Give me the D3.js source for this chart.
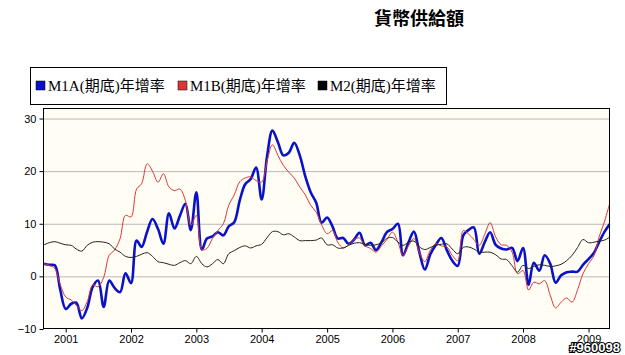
<!DOCTYPE html>
<html><head><meta charset="utf-8">
<script src="https://cdn.jsdelivr.net/npm/d3@7"></script>
<style>
body{margin:0;background:#fff;}
svg{display:block;}
</style></head>
<body>
<svg id="chart" width="625" height="355"></svg>
<script>
// Months: Sep 2000 .. May 2009
const startYear = 2000, startMonth = 8; // 0-based (Sep)
const months = d3.range(105).map(i => {
  const y = startYear + Math.floor((startMonth + i) / 12);
  const m = (startMonth + i) % 12 + 1;
  return y + "/" + String(m).padStart(2, "0");
});

const seriesNames = ["M1A(期底)年增率", "M1B(期底)年增率", "M2(期底)年增率"];
const seriesColors = ["#0a12c8", "#d83838", "#222222"];

const m1a = [2.4,2.2,2.1,-2.5,
  -6.2,-5.2,-5.0,-8.0,-6.0,-2.0,-0.8,-5.8,-0.8,-2.2,-3.0,0.6,
  -1.3,6.8,5.6,8.5,10.9,9.0,6.2,12.0,9.1,11.5,13.8,8.8,
  16.0,5.1,7.2,7.6,8.4,7.8,9.5,10.3,14.5,17.5,18.5,20.7,
  14.6,23.0,27.7,25.5,23.0,23.5,25.4,23.0,19.0,16.0,14.0,10.2,
  11.2,9.4,7.2,7.3,6.2,7.0,8.3,5.9,6.4,5.0,6.5,8.4,
  9.0,10.0,4.0,6.5,8.5,4.5,1.3,4.2,6.0,7.3,5.0,3.0,
  2.0,7.8,8.8,9.3,4.3,6.5,8.4,6.0,5.3,5.1,5.4,2.9,
  5.4,-1.6,2.6,1.1,4.0,2.4,-1.2,0.2,0.8,0.9,0.9,2.2,
  3.3,4.5,6.5,8.5,10.0];

const m1b = [2.4,2.1,1.5,-1.5,
  -3.9,-4.5,-5.5,-6.5,-4.8,-1.6,-2.0,-0.2,4.0,5.0,7.2,11.6,
  11.3,16.6,17.6,21.4,20.0,17.9,19.5,17.0,16.3,16.6,14.4,9.7,
  11.6,5.1,5.3,7.2,8.7,10.0,13.5,15.5,18.0,18.7,18.9,18.2,
  17.9,22.0,25.0,23.0,21.1,19.8,18.7,17.0,15.5,13.5,12.2,9.8,
  8.1,8.7,6.5,5.4,6.0,7.0,7.3,5.8,5.3,4.6,5.8,7.0,
  8.4,6.5,4.0,5.8,7.2,4.5,2.8,5.0,6.2,5.8,5.6,4.0,
  3.0,8.7,8.1,7.0,5.9,8.0,10.2,7.5,6.0,5.9,4.6,0.5,
  1.1,-2.6,-1.1,-1.4,-0.8,-3.6,-6.0,-4.9,-4.1,-4.9,-2.5,0.5,
  2.4,4.0,7.5,10.5,14.1];

const m2 = [6.0,6.4,6.6,6.3,
  6.0,5.9,5.2,4.8,5.9,6.5,6.6,6.5,6.2,5.2,4.6,3.8,
  3.6,3.8,4.2,4.5,3.8,2.8,2.6,2.3,2.1,2.6,3.0,2.4,
  3.8,2.4,1.8,2.4,3.2,2.4,4.3,4.9,5.5,5.8,5.4,5.8,
  6.1,7.4,8.5,8.5,7.9,8.1,7.5,6.8,6.8,6.8,6.9,7.3,
  6.0,6.0,5.4,5.4,5.9,6.3,6.4,6.1,5.9,6.0,6.4,7.2,
  7.4,6.5,5.9,6.5,6.7,5.6,5.1,5.5,5.9,6.1,6.2,5.2,
  4.3,5.5,5.6,5.2,4.6,4.6,4.6,4.1,3.3,3.2,2.0,0.8,
  2.1,1.5,1.9,2.2,2.1,1.9,2.0,2.3,3.0,4.0,5.5,7.0,
  6.4,6.5,6.7,6.9,7.5];

const yTicks = [-10, 0, 10, 20, 30];
const xTickYears = ["2001","2002","2003","2004","2005","2006","2007","2008","2009"];
const titleText = "貨幣供給額";
const stampText = "#960098";

const parse = d3.timeParse("%Y/%m");
const dates = months.map(parse);
const allSeries = [m1a, m1b, m2];

const svg = d3.select("#chart");
const plot = {left: 43, right: 610, top: 108, bottom: 329};

const x = d3.scaleTime()
  .domain([new Date(2000, 7, 27), new Date(2009, 4, 1)])
  .range([plot.left, plot.right]);
const y = d3.scaleLinear().domain([-10, 32]).range([plot.bottom, plot.top]);

// title
svg.append("text").attr("x", 419).attr("y", 25).attr("text-anchor", "middle")
  .attr("font-family", "'Noto Sans CJK TC', sans-serif").attr("font-weight", "bold")
  .attr("font-size", 18).attr("fill", "#000").text(titleText);

// plot background
svg.append("rect").attr("x", plot.left).attr("y", plot.top)
  .attr("width", plot.right - plot.left).attr("height", plot.bottom - plot.top)
  .attr("fill", "#fffdf4");

// grid
svg.append("g").selectAll("line").data(yTicks.filter(t => t > -10)).join("line")
  .attr("x1", plot.left).attr("x2", plot.right)
  .attr("y1", d => y(d) + 0.5).attr("y2", d => y(d) + 0.5)
  .attr("stroke", "#b8b8b8").attr("stroke-width", 1);

// lines
const clip = svg.append("clipPath").attr("id", "clip").append("rect")
  .attr("x", plot.left).attr("y", plot.top).attr("width", plot.right - plot.left).attr("height", plot.bottom - plot.top);
const line = d3.line().x((d, i) => x(dates[i])).y(d => y(d)).curve(d3.curveCatmullRom.alpha(0.5));
const widths = [2.6, 1, 1];
const gLines = svg.append("g").attr("clip-path", "url(#clip)");
allSeries.forEach((s, k) => {
  gLines.append("path").datum(s).attr("d", line).attr("fill", "none")
    .attr("stroke", seriesColors[k]).attr("stroke-width", widths[k]).attr("stroke-linejoin", "round");
});

// frame
svg.append("rect").attr("x", plot.left + 0.5).attr("y", plot.top + 0.5)
  .attr("width", plot.right - plot.left - 1).attr("height", plot.bottom - plot.top - 1)
  .attr("fill", "none").attr("stroke", "#000");

// axes
const yAxis = d3.axisLeft(y).tickValues(yTicks).tickSize(4).tickPadding(3).tickFormat(d3.format("d"));
const gy = svg.append("g").attr("transform", `translate(${plot.left + 0.5},0)`).call(yAxis);
gy.select(".domain").remove();
const xAxis = d3.axisBottom(x).tickValues(xTickYears.map(s => new Date(+s, 0, 1)))
  .tickSize(4).tickPadding(3).tickFormat(d3.timeFormat("%Y"));
const gx = svg.append("g").attr("transform", `translate(0,${plot.bottom - 0.5})`).call(xAxis);
gx.select(".domain").remove();
[gx, gy].forEach(g => {
  g.selectAll("text").attr("font-family", "'Liberation Sans', Arial, sans-serif").attr("font-size", 11).attr("fill", "#000");
  g.selectAll("line").attr("stroke", "#000");
});

// legend
const lg = svg.append("g");
lg.append("rect").attr("x", 30.5).attr("y", 67.5).attr("width", 416).attr("height", 37)
  .attr("fill", "#fff").attr("stroke", "#000");
const legX = [36, 178, 318];
seriesNames.forEach((n, k) => {
  lg.append("rect").attr("x", legX[k]).attr("y", 81).attr("width", 9).attr("height", 9)
    .attr("fill", seriesColors[k] === "#222222" ? "#000" : seriesColors[k]).attr("stroke", "#000").attr("stroke-width", 0.5);
  lg.append("text").attr("x", legX[k] + 12).attr("y", 91)
    .attr("font-family", "'Liberation Serif', 'Noto Sans CJK TC', serif")
    .attr("font-size", 15).attr("fill", "#000").text(n);
});

// stamp
svg.append("text").attr("x", 620).attr("y", 352).attr("text-anchor", "end")
  .attr("font-family", "'Liberation Sans', Arial, sans-serif").attr("font-weight", "bold")
  .attr("font-size", 13).attr("fill", "#fff").attr("stroke", "#000").attr("stroke-width", 2.2)
  .attr("paint-order", "stroke").text(stampText);
</script>
</body></html>
